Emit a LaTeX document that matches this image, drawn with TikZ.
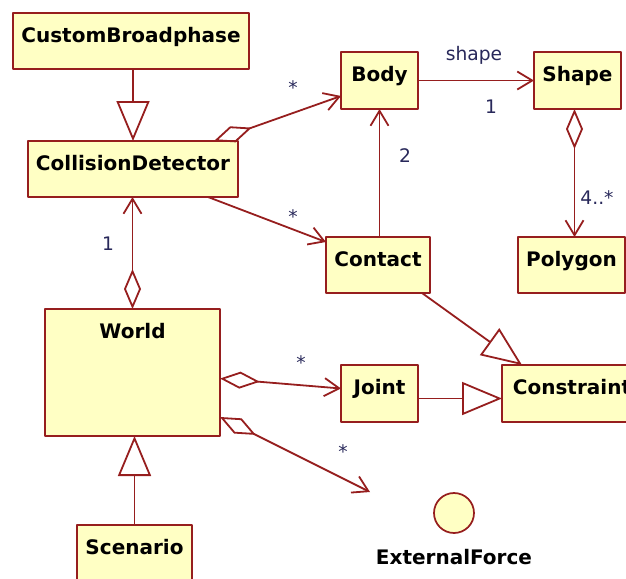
\documentclass[tikz,border=0pt]{standalone}
\usepackage{fontspec}
\setmainfont{DejaVu Sans}
\usetikzlibrary{arrows.meta}
\definecolor{umlred}{RGB}{150,30,30}
\definecolor{umlfill}{RGB}{255,255,196}
\definecolor{umltext}{RGB}{40,40,90}
\newdimen\pxu \pxu=0.75pt
\begin{document}
\begin{tikzpicture}[x=0.75pt,y=-0.75pt, line join=round, line cap=round,
nm/.style={inner sep=0pt, font=\fontsize{15pt}{18pt}\selectfont\bfseries},
clsname/.style={nm, anchor=base, yshift=-29\pxu},
cls/.style={draw=umlred, fill=umlfill, line width=1.5pt, inner sep=0pt, outer sep=0pt, anchor=north west, label={[clsname]north:#1}},
mult/.style={anchor=base, inner sep=0pt, text=umltext, font=\fontsize{14pt}{17pt}\selectfont},
link/.style={draw=umlred, line width=1.35pt},
assoc/.style={link, -{Straight Barb[length=11.25pt, width=13.5pt]}},
agg/.style={link, {Diamond[open, length=30pt, width=12.75pt]}-{Straight Barb[length=11.25pt, width=13.5pt]}},
gen/.style={link, -{Triangle[open, length=30pt, width=24.75pt]}}]
\useasboundingbox (0,0) rectangle (626,579);
\node[cls=CustomBroadphase, minimum width=236\pxu, minimum height=56\pxu] (cb) at (13,13) {};
\node[cls=CollisionDetector, minimum width=210\pxu, minimum height=56\pxu] (cd) at (28,141) {};
\node[cls=Body, minimum width=77\pxu, minimum height=57\pxu] (body) at (341,52) {};
\node[cls=Shape, minimum width=87\pxu, minimum height=57\pxu] (shape) at (534,52) {};
\node[cls=Contact, minimum width=104\pxu, minimum height=56\pxu] (contact) at (326,237) {};
\node[cls=Polygon, minimum width=107\pxu, minimum height=56\pxu] (polygon) at (518,237) {};
\node[cls=World, minimum width=175\pxu, minimum height=127\pxu] (world) at (45,309) {};
\node[cls=Joint, minimum width=77\pxu, minimum height=57\pxu] (joint) at (341,365) {};
\node[cls=Constraint, minimum width=140\pxu, minimum height=57\pxu] (constraint) at (502,365) {};
\node[cls=Scenario, minimum width=115\pxu, minimum height=70\pxu] (scenario) at (77,525) {};
\node[draw=umlred, fill=umlfill, line width=1.3pt, circle, minimum size=40\pxu, inner sep=0pt] (ef) at (454,513) {};
\node[nm, anchor=base] (efname) at (454,564) {ExternalForce};
\coordinate (efend) at (370,492);
\draw[gen] (cb.south -| cd.north) -- (cd.north);
\draw[agg] ([xshift=-24\pxu]cd.north east) -- ([yshift=13\pxu]body.south west);
\draw[assoc] ([xshift=-30\pxu]cd.south east) -- ([yshift=-5\pxu]contact.north west);
\draw[agg] (world.north) -- (world.north |- cd.south);
\draw[assoc] (body.east) -- (shape.west);
\draw[assoc] (body.south |- contact.north) -- (body.south);
\draw[agg] ([xshift=-3\pxu]shape.south) -- ([xshift=3\pxu]polygon.north);
\draw[gen] ([xshift=-8\pxu]contact.south east) -- ([xshift=20\pxu]constraint.north west);
\draw[gen] ([yshift=-5\pxu]joint.east) -- ([yshift=-5\pxu]constraint.west);
\draw[agg] ([yshift=-6\pxu]world.east) -- ([yshift=5\pxu]joint.west);
\draw[agg] ([yshift=19\pxu]world.south east) -- (efend);
\draw[gen] (scenario.north) -- (scenario.north |- world.south);
\node[mult] (mshape) at (474,60) {shape};
\node[mult] (mshapeone) at (491,113) {1};
\node[mult] (mbody) at (293,94) {*};
\node[mult] (mcontact) at (293,223) {*};
\node[mult] (mbodytwo) at (405,162) {2};
\node[mult] (mpoly) at (597,204) {4..*};
\node[mult] (mcd) at (108,250) {1};
\node[mult] (mjoint) at (301,369) {*};
\node[mult] (mforce) at (343,458) {*};
\end{tikzpicture}
\end{document}
